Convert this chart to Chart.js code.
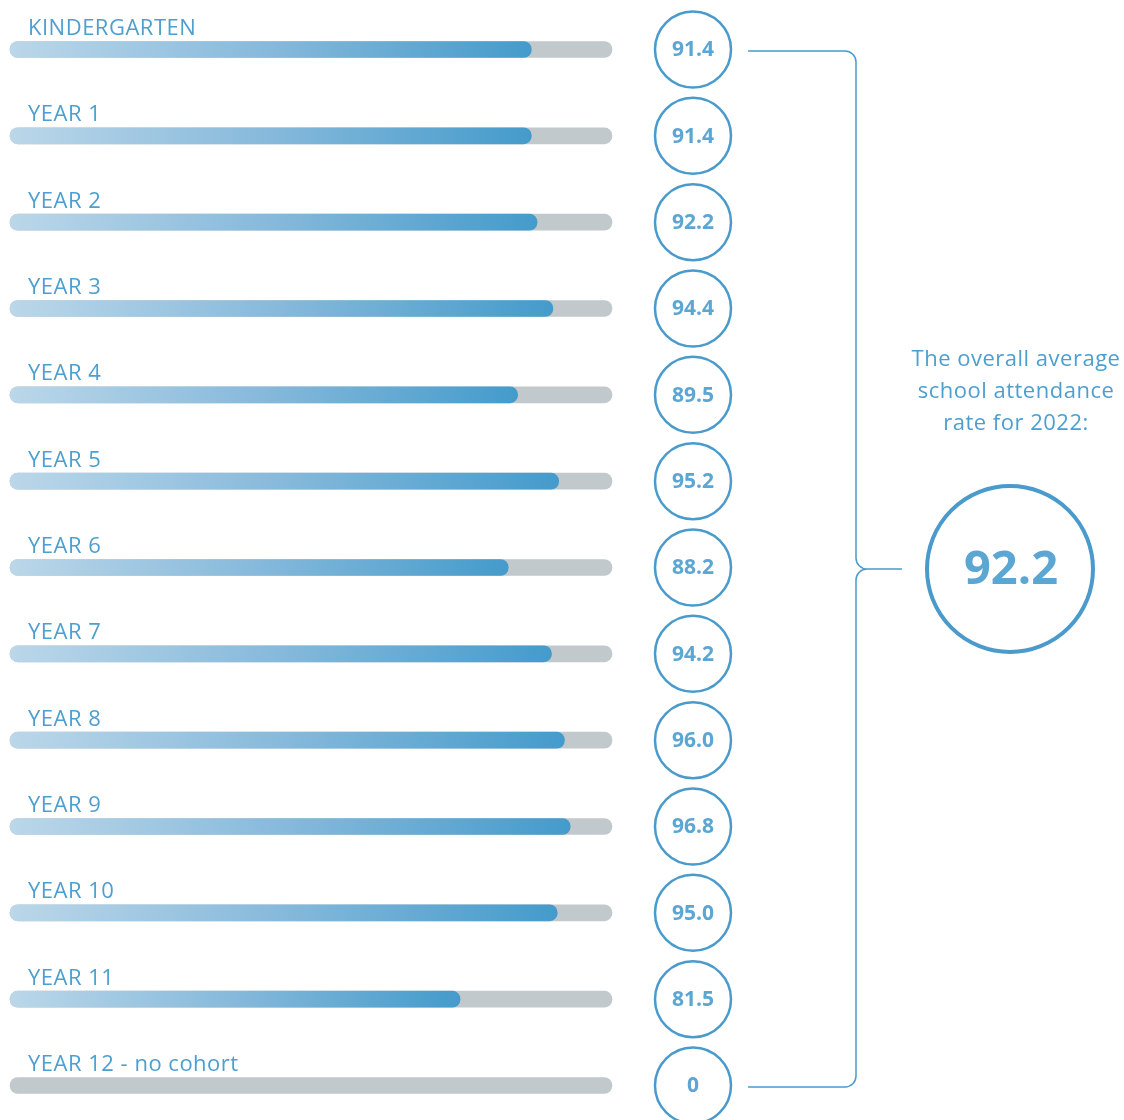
<!DOCTYPE html>
<html>
<head>
<meta charset="utf-8">
<script src="https://cdn.jsdelivr.net/npm/chart.js@4/dist/chart.umd.min.js"></script>
<style>
  html, body { margin: 0; padding: 0; background: #ffffff; }
  #wrap { position: relative; width: 1124px; height: 1120px; }
</style>
</head>
<body>
<div id="wrap"><canvas id="chart"></canvas></div>
<script>
// Attendance rate (%) by school year, 2022
const categories = ['KINDERGARTEN', 'YEAR 1', 'YEAR 2', 'YEAR 3', 'YEAR 4', 'YEAR 5', 'YEAR 6',
  'YEAR 7', 'YEAR 8', 'YEAR 9', 'YEAR 10', 'YEAR 11', 'YEAR 12 - no cohort'];
const attendance = [91.4, 91.4, 92.2, 94.4, 89.5, 95.2, 88.2, 94.2, 96.0, 96.8, 95.0, 81.5, 0];
const valueLabels = ['91.4', '91.4', '92.2', '94.4', '89.5', '95.2', '88.2', '94.2', '96.0', '96.8', '95.0', '81.5', '0'];
const overallAverage = 92.2;
const overallLabel = '92.2';
const overallText = ['The overall average', 'school attendance', 'rate for 2022:'];

// Value axis range used for the track bars
const AXIS_MIN = 19;
const AXIS_MAX = 102.6;
const track = categories.map(() => AXIS_MAX);

const BLUE = '#4a9bcc';
const NUM_BLUE = '#5ba6d2';
const LABEL_BLUE = '#4d9fd0';
const FONT = '"Open Sans", "Noto Sans", sans-serif';

function barGradient(context) {
  const chart = context.chart;
  const area = chart.chartArea;
  if (!area || context.dataIndex === undefined) return '#6aaed6';
  const v = context.dataset.data[context.dataIndex];
  // a year without a cohort has no bar, only the empty track
  if (v <= AXIS_MIN) return 'rgba(0,0,0,0)';
  const x0 = area.left;
  const x1 = Math.max(chart.scales.x.getPixelForValue(v), x0 + 1);
  const g = chart.ctx.createLinearGradient(x0, 0, x1, 0);
  g.addColorStop(0, '#bbd7e9');
  g.addColorStop(0.5, '#86b9db');
  g.addColorStop(1, '#449bcb');
  return g;
}

// Circles, row labels, bracket and overall figure
const overlay = {
  id: 'overlay',
  afterDatasetsDraw(chart) {
    const ctx = chart.ctx;
    const y = chart.scales.y;
    const cx = 693, r = 38;
    ctx.save();

    // row titles above the bars
    ctx.fillStyle = LABEL_BLUE;
    ctx.font = '400 22px ' + FONT;
    ctx.letterSpacing = '0.5px';
    ctx.textAlign = 'left';
    ctx.textBaseline = 'alphabetic';
    categories.forEach((c, i) => {
      ctx.fillText(c, 28, y.getPixelForValue(i) - 14.5);
    });
    ctx.letterSpacing = '0px';

    // value circles
    categories.forEach((c, i) => {
      const cy = y.getPixelForValue(i);
      ctx.beginPath();
      ctx.arc(cx, cy, r, 0, Math.PI * 2);
      ctx.lineWidth = 2.5;
      ctx.strokeStyle = BLUE;
      ctx.stroke();
      ctx.fillStyle = NUM_BLUE;
      ctx.font = '700 21px ' + FONT;
      ctx.textAlign = 'center';
      ctx.textBaseline = 'middle';
      ctx.fillText(valueLabels[i], cx, cy + 1);
    });

    // curly bracket
    const yTop = y.getPixelForValue(0) + 1.5;
    const yBot = y.getPixelForValue(categories.length - 1) + 1.5;
    const yMid = (yTop + yBot) / 2;
    const xs = 748, xv = 856, rr = 11, xTip = 902;
    ctx.beginPath();
    ctx.moveTo(xs, yTop);
    ctx.lineTo(xv - rr, yTop);
    ctx.arcTo(xv, yTop, xv, yTop + rr, rr);
    ctx.lineTo(xv, yMid - rr);
    ctx.arcTo(xv, yMid, xv + rr, yMid, rr);
    ctx.lineTo(xTip, yMid);
    ctx.moveTo(xv + rr, yMid);
    ctx.arcTo(xv, yMid, xv, yMid + rr, rr);
    ctx.lineTo(xv, yBot - rr);
    ctx.arcTo(xv, yBot, xv - rr, yBot, rr);
    ctx.lineTo(xs, yBot);
    ctx.lineWidth = 1.5;
    ctx.strokeStyle = BLUE;
    ctx.stroke();

    // overall average
    const bx = 1010, by = yMid;
    ctx.beginPath();
    ctx.arc(bx, by, 83, 0, Math.PI * 2);
    ctx.lineWidth = 4;
    ctx.strokeStyle = BLUE;
    ctx.stroke();
    ctx.fillStyle = NUM_BLUE;
    ctx.font = '700 47px ' + FONT;
    ctx.textAlign = 'center';
    ctx.textBaseline = 'middle';
    ctx.fillText(overallLabel, bx + 1, by + 2);

    ctx.fillStyle = LABEL_BLUE;
    ctx.font = '400 22px ' + FONT;
    ctx.letterSpacing = '0.5px';
    ctx.textBaseline = 'alphabetic';
    overallText.forEach((t, i) => ctx.fillText(t, 1016, 366 + i * 32));

    ctx.restore();
  }
};

new Chart(document.getElementById('chart'), {
  type: 'bar',
  data: {
    labels: categories,
    datasets: [
      {
        label: 'Attendance',
        data: attendance,
        base: AXIS_MIN,
        backgroundColor: barGradient,
        borderRadius: 8,
        borderSkipped: false,
        barThickness: 16,
        grouped: false,
        order: 1,
        clip: false
      },
      {
        label: 'Track',
        data: track,
        base: AXIS_MIN,
        backgroundColor: '#c1c9cc',
        borderRadius: 8,
        borderSkipped: false,
        barThickness: 16,
        grouped: false,
        order: 2,
        clip: false
      }
    ]
  },
  options: {
    indexAxis: 'y',
    responsive: true,
    maintainAspectRatio: false,
    animation: false,
    layout: { padding: { left: 10, right: 512, top: 49.5, bottom: 34.5 } },
    scales: {
      x: { display: false, min: AXIS_MIN, max: AXIS_MAX },
      y: { display: false, offset: false }
    },
    plugins: {
      legend: { display: false },
      tooltip: { enabled: false }
    }
  },
  plugins: [overlay]
});
</script>
</body>
</html>
